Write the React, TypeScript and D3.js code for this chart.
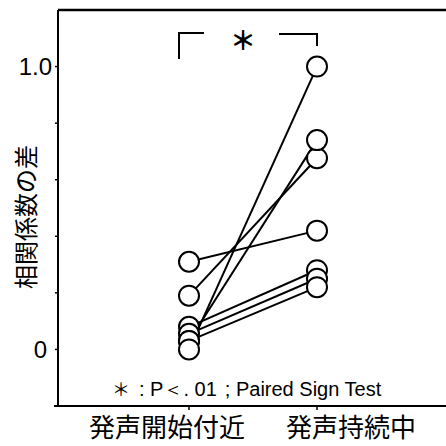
import React from "react";
import * as d3 from "d3";

// Conditions on the x axis
const categories = ["発声開始付近", "発声持続中"];
// Paired values per subject: difference of correlation coefficients
const onsetValues = [0.31, 0.19, 0.08, 0.055, 0.03, 0.03, 0.0];
const sustainValues = [0.42, 0.676, 0.28, 0.25, 0.22, 0.74, 1.0];
// Y axis ticks, only some of them labelled
const yTicks = [-0.2, 0, 0.2, 0.4, 0.6, 0.8, 1.0];
const yTickLabels: Record<string, string> = { "0": "0", "1": "1.0" };
const yTitle = "相関係数の差";
const footnoteMark = "＊";
const footnoteStat = ": P＜. 01";
const footnoteTest = "; Paired Sign Test";
const sigMark = "＊";

const W = 446;
const H = 446;

export default function App() {
  const y = d3.scaleLinear().domain([-0.2, 1.2]).range([406, 10]);
  const x = d3.scalePoint<string>().domain(categories).range([189, 317]);
  const left = 58;
  const right = W;
  const x0 = x(categories[0])!;
  const x1 = x(categories[1])!;
  const pairs = onsetValues.map((v, i) => [v, sustainValues[i]]);
  const jp = "'Noto Sans CJK JP', sans-serif";
  const latin = "'Liberation Sans', Arial, sans-serif";

  return (
    <svg
      width={W}
      height={H}
      style={{ position: "absolute", left: 0, top: 0, background: "#fff" }}
    >
      {/* frame: left axis, top border, bottom axis */}
      <line x1={left} x2={left} y1={y(1.2)} y2={y(-0.2)} stroke="#000" strokeWidth={2} />
      <line x1={left} x2={right} y1={y(1.2)} y2={y(1.2)} stroke="#000" strokeWidth={2.5} />
      <line x1={left - 4} x2={right} y1={y(-0.2)} y2={y(-0.2)} stroke="#000" strokeWidth={2} />

      {yTicks.map((t) => (
        <g key={t}>
          <line x1={left - 3} x2={left} y1={y(t)} y2={y(t)} stroke="#000" strokeWidth={1.5} />
          {yTickLabels[String(t)] && (
            <text
              x={t === 0 ? 47 : 52}
              y={y(t)}
              dy="0.36em"
              textAnchor="end"
              fontFamily={latin}
              fontSize={24}
              fill="#000"
            >
              {yTickLabels[String(t)]}
            </text>
          )}
        </g>
      ))}

      {categories.map((c) => (
        <line key={c} x1={x(c)} x2={x(c)} y1={y(-0.2)} y2={y(-0.2) + 4} stroke="#000" strokeWidth={1.5} />
      ))}

      {/* category labels */}
      <text x={167} y={437} textAnchor="middle" fontFamily={jp} fontSize={26} fill="#000">
        {categories[0]}
      </text>
      <text x={351} y={437} textAnchor="middle" fontFamily={jp} fontSize={26} fill="#000">
        {categories[1]}
      </text>

      {/* y title */}
      <text
        transform={`translate(35,217) rotate(-90)`}
        textAnchor="middle"
        fontFamily={jp}
        fontSize={24}
        fill="#000"
      >
        {yTitle}
      </text>

      {/* paired lines */}
      {pairs.map(([a, b], i) => (
        <line key={i} x1={x0} y1={y(a)} x2={x1} y2={y(b)} stroke="#000" strokeWidth={2} />
      ))}

      {/* points */}
      {pairs.map(([a], i) => (
        <circle key={"a" + i} cx={x0} cy={y(a)} r={10} fill="#fff" stroke="#000" strokeWidth={2} />
      ))}
      {pairs.map(([, b], i) => (
        <circle key={"b" + i} cx={x1} cy={y(b)} r={10} fill="#fff" stroke="#000" strokeWidth={2} />
      ))}

      {/* significance bracket */}
      <path
        d={`M${x0 - 10},59 V33 H${x0 + 15}`}
        fill="none"
        stroke="#000"
        strokeWidth={2}
      />
      <path d={`M${x1 - 38},34 H${x1} V46`} fill="none" stroke="#000" strokeWidth={2} />
      <text x={243} y={50} textAnchor="middle" fontFamily={jp} fontSize={26} fontWeight={700} fill="#000">
        {sigMark}
      </text>

      {/* footnote */}
      <text x={112} y={396} fontFamily={latin} fontSize={20} fill="#000">
        <tspan fontFamily={jp} fontSize={18}>{footnoteMark}</tspan>
        <tspan dx={9}>{footnoteStat}</tspan>
        <tspan dx={8}>{footnoteTest}</tspan>
      </text>
    </svg>
  );
}
